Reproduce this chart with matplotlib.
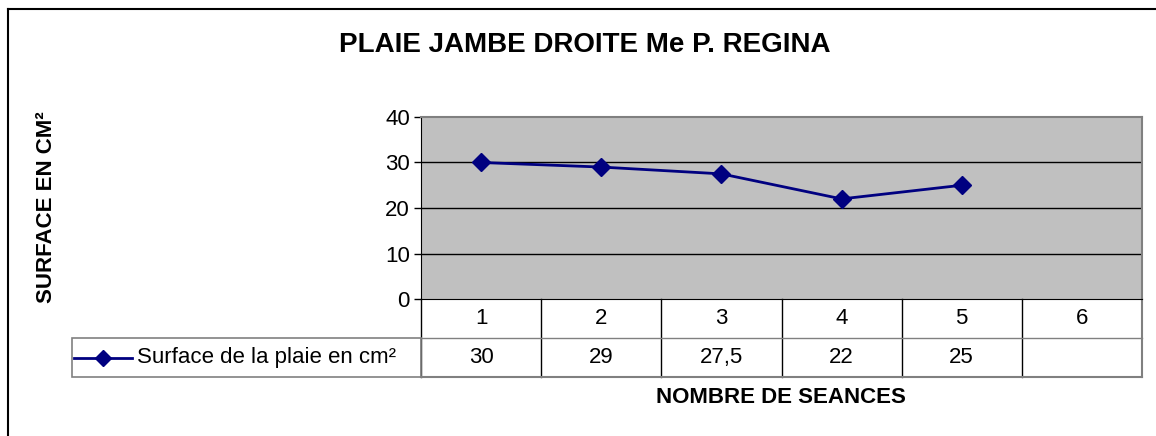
import matplotlib
matplotlib.use("Agg")
import matplotlib.pyplot as plt
from matplotlib.lines import Line2D
from matplotlib.patches import Rectangle

# data
seances = [1, 2, 3, 4, 5, 6]
surface = [30, 29, 27.5, 22, 25]
surface_labels = ["30", "29", "27,5", "22", "25", ""]
serie = "Surface de la plaie en cm²"

plt.rcParams["font.family"] = ["Liberation Sans", "DejaVu Sans"]

W, H = 1156, 436
fig = plt.figure(figsize=(W / 100, H / 100), dpi=100)

# outer chart frame (only top and left edges visible)
fig.add_artist(Line2D([7.5 / W, 7.5 / W], [0, 1 - 9 / H], transform=fig.transFigure,
                      color="black", linewidth=1.5))
fig.add_artist(Line2D([7.5 / W, 1], [1 - 9 / H, 1 - 9 / H], transform=fig.transFigure,
                      color="black", linewidth=1.5))

# plot area in pixels
x0, x1, y_top, y_bot = 421, 1142, 117, 299
ax = fig.add_axes([x0 / W, (H - y_bot) / H, (x1 - x0) / W, (y_bot - y_top) / H])
ax.set_facecolor("#C0C0C0")
ax.set_xlim(0.5, 6.5)
ax.set_ylim(0, 40)
ax.set_yticks([0, 10, 20, 30, 40])
for y in [10, 20, 30]:
    ax.axhline(y, color="black", linewidth=1, zorder=1)
ax.set_xticks([])
ax.tick_params(axis="y", labelsize=16, length=5, width=1, pad=3)
for side in ["top", "right"]:
    ax.spines[side].set_color("#808080")
    ax.spines[side].set_linewidth(1.5)
ax.spines["left"].set_color("black")
ax.spines["bottom"].set_color("black")

ax.plot(seances[:len(surface)], surface, color="#000080", linewidth=2,
        marker="D", markersize=9, zorder=3)

# data table below the plot
row_h = 39 / (y_bot - y_top)
tr = ax.get_xaxis_transform()
edges = [s - 0.5 for s in seances] + [seances[-1] + 0.5]
kw = dict(transform=tr, color="black", linewidth=1, clip_on=False)
for e in edges[:-1]:
    ax.add_line(Line2D([e, e], [0, -2 * row_h], **kw))
ax.add_line(Line2D([edges[-1], edges[-1]], [0, -2 * row_h],
                   transform=tr, color="#808080", linewidth=1.5, clip_on=False))
ax.add_line(Line2D([edges[0], edges[-1]], [-row_h, -row_h],
                   transform=tr, color="#808080", linewidth=1, clip_on=False))
ax.add_line(Line2D([edges[0], edges[-1]], [-2 * row_h, -2 * row_h],
                   transform=tr, color="#808080", linewidth=1.5, clip_on=False))
for s, lab in zip(seances, surface_labels):
    ax.text(s, -0.5 * row_h, str(s), transform=tr, ha="center", va="center", fontsize=16)
    ax.text(s, -1.5 * row_h, lab, transform=tr, ha="center", va="center", fontsize=16)

# legend cell at the left of the value row
lx0 = 72
fig.patches.append(Rectangle((lx0 / W, (H - 377) / H), (x0 - lx0) / W, 39 / H,
                             transform=fig.transFigure, fill=False,
                             edgecolor="#808080", linewidth=1.2))
ym = (H - 357.5) / H
fig.add_artist(Line2D([74 / W, 132 / W], [ym, ym], transform=fig.transFigure,
                      color="#000080", linewidth=2))
fig.add_artist(Line2D([103 / W], [ym], transform=fig.transFigure,
                      color="#000080", marker="D", markersize=8))
fig.text(137 / W, ym, serie, ha="left", va="center", fontsize=16)

fig.text(585 / W, (H - 45) / H, "PLAIE JAMBE DROITE Me P. REGINA",
         ha="center", va="center", fontsize=20, fontweight="bold")
fig.text(47 / W, (H - 207) / H, "SURFACE EN CM²", rotation=90,
         ha="center", va="center", fontsize=16, fontweight="bold")
fig.text(781 / W, (H - 397) / H, "NOMBRE DE SEANCES",
         ha="center", va="center", fontsize=16, fontweight="bold")

fig.savefig("out.png", dpi=100)
